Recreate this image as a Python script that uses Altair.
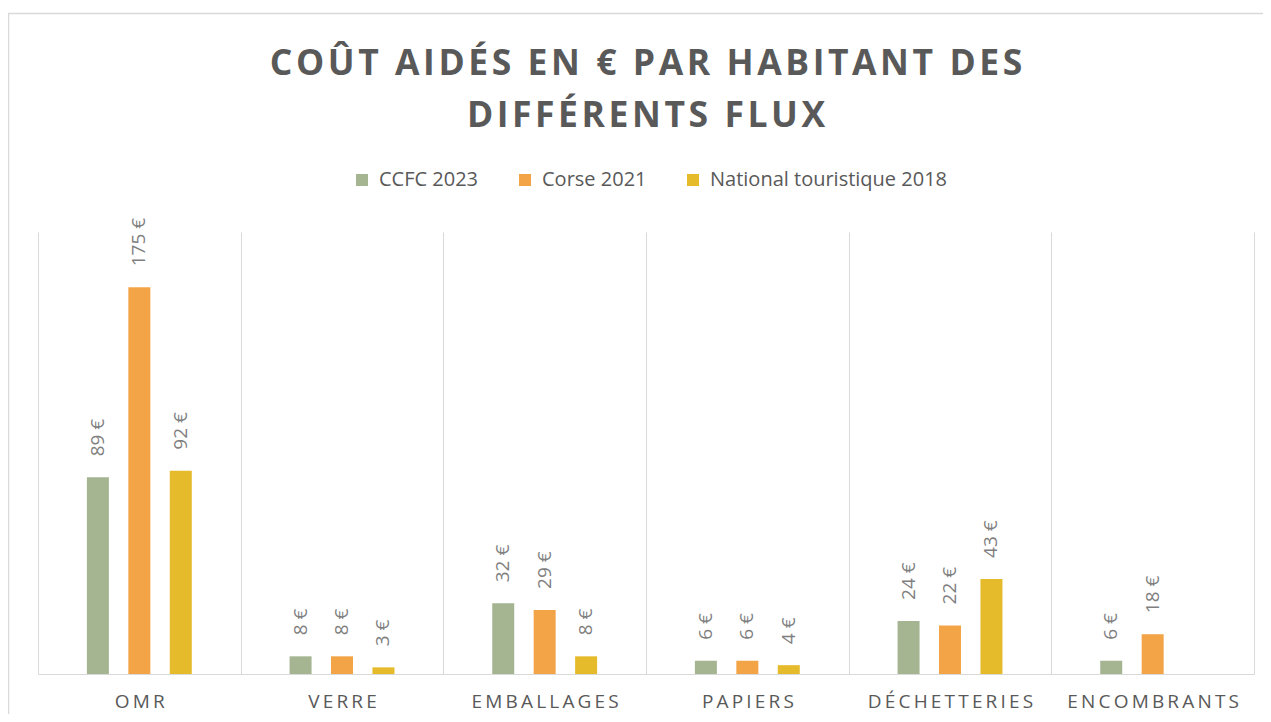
import altair as alt
import pandas as pd

categories = ["OMR", "VERRE", "EMBALLAGES", "PAPIERS", "DÉCHETTERIES", "ENCOMBRANTS"]
series = ["CCFC 2023", "Corse 2021", "National touristique 2018"]
ccfc_2023 = [89, 8, 32, 6, 24, 6]
corse_2021 = [175, 8, 29, 6, 22, 18]
national_2018 = [92, 3, 8, 4, 43, None]
colors = ["#a5b592", "#f3a447", "#e6bb2b"]
title_lines = ["COÛT AIDÉS EN € PAR HABITANT DES", "DIFFÉRENTS FLUX"]

rows = []
for s, vals in zip(series, [ccfc_2023, corse_2021, national_2018]):
    for c, v in zip(categories, vals):
        if v is not None:
            rows.append({"flux": c, "serie": s, "valeur": v, "lab": f"{v} €"})
df = pd.DataFrame(rows)

HAIR = "\u200a"
SIXEM = "\u2006"
title_text = [HAIR.join(t) for t in title_lines]

W, H = 1216, 442
GRID = "#d9d9d9"

base = alt.Chart(df).encode(
    x=alt.X(
        "flux:N",
        sort=categories,
        scale=alt.Scale(paddingInner=0, paddingOuter=0),
        axis=alt.Axis(
            title=None,
            labelAngle=0,
            labelFont="Open Sans",
            labelFontSize=19,
            labelColor="#595959",
            labelPadding=18,
            labelExpr=f"join(split(datum.label, ''), '{SIXEM}')",
            ticks=False,
            grid=True,
            gridColor=GRID,
            gridWidth=1,
            tickBand="extent",
            domainColor=GRID,
            domainWidth=1,
        ),
    ),
    xOffset=alt.XOffset(
        "serie:N", sort=series, scale=alt.Scale(paddingInner=0.11, paddingOuter=1)
    ),
    y=alt.Y("valeur:Q", scale=alt.Scale(domain=[0, 200]), axis=None),
)

bars = base.mark_bar(width=22).encode(
    color=alt.Color(
        "serie:N",
        sort=series,
        scale=alt.Scale(domain=series, range=colors),
        legend=alt.Legend(
            title=None,
            orient="none",
            direction="horizontal",
            legendX=314,
            legendY=-62,
            symbolType="square",
            symbolSize=144,
            symbolStrokeWidth=0,
            labelFont="Open Sans",
            labelFontSize=20,
            labelColor="#595959",
            labelOffset=7,
            labelLimit=400,
            columnPadding=36,
        ),
    )
)

labels = base.mark_text(
    angle=270, align="left", baseline="middle", dx=21,
    font="Open Sans", fontSize=19, color="#7f7f7f"
).encode(text="lab:N")

frame_df = pd.DataFrame({"k": [0]})
frame_left = alt.Chart(frame_df).mark_rule(color=GRID, strokeWidth=1.5, clip=False).encode(
    x=alt.value(-29.5), y=alt.value(-219), y2=alt.value(H + 60)
)
frame_top = alt.Chart(frame_df).mark_rule(color=GRID, strokeWidth=1.5, clip=False).encode(
    x=alt.value(-30), x2=alt.value(W + 20), y=alt.value(-218.5)
)

chart = alt.layer(frame_left, frame_top, bars, labels).properties(
    width=W,
    height=H,
    autosize=alt.AutoSizeParams(type="none"),
    padding={"left": 30, "top": 224, "right": 9, "bottom": 40},
    title=alt.TitleParams(
        text=title_text,
        font="Open Sans",
        fontSize=35.5,
        fontWeight="bold",
        color="#595959",
        anchor="middle",
        lineHeight=52,
        offset=-122,
    ),
).configure_view(stroke=None)

chart.save("out.html", embed_options={"renderer": "svg", "actions": False})
